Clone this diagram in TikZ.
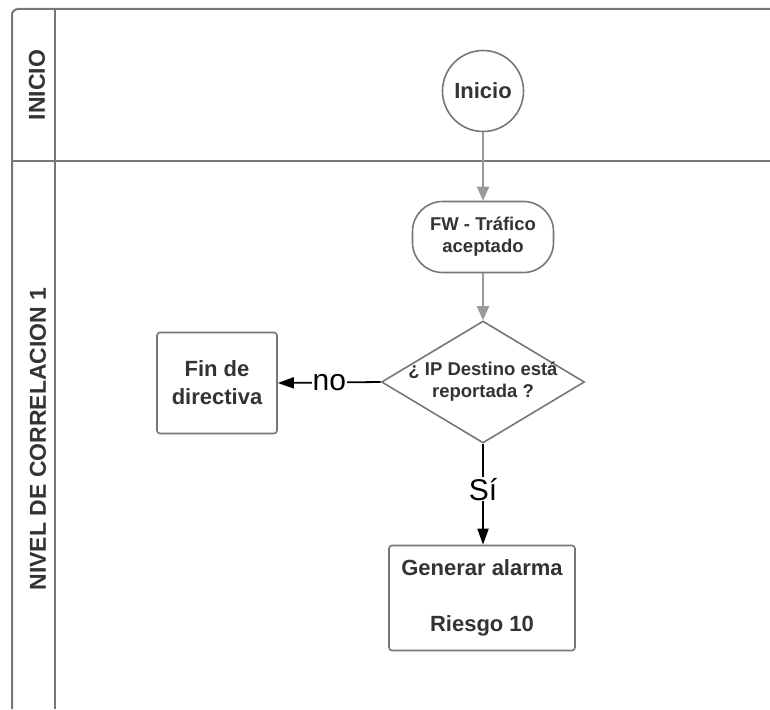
\documentclass[tikz,border=0pt]{standalone}
\usepackage{fontspec}
\setmainfont{Liberation Sans}
\usetikzlibrary{shapes.geometric,arrows.meta}
\definecolor{txt}{HTML}{333333}
\definecolor{lane}{HTML}{777777}
\definecolor{garrow}{HTML}{9A9A9A}
\begin{document}
\begin{tikzpicture}[x=1pt,y=-1pt,
  lanel/.style={line width=2pt,draw=lane},
  hdr/.style={rotate=90,font=\fontsize{23}{27}\selectfont\bfseries,text=txt,inner sep=0},
  shp/.style={draw=lane,line width=1.6pt,fill=white,text=txt,align=center,inner sep=0},
  gflow/.style={draw=garrow,line width=2pt,-{Triangle[length=14pt,width=12pt]}},
  bflow/.style={draw=black,line width=1.8pt,-{Triangle[length=16pt,width=11pt]}},
  lbl/.style={fill=white,text=black,font=\fontsize{30}{32}\selectfont,inner sep=1pt}
]
\useasboundingbox (0,0) rectangle (770,709);
% swimlanes
\draw[lanel, rounded corners=6pt] (12,709) -- (12,9) -- (770,9);
\draw[lanel] (55,9) -- (55,709);
\draw[lanel] (12,161) -- (770,161);
\node[hdr] (h1) at (37,85) {INICIO};
\node[hdr] (h2) at (38,439) {NIVEL DE CORRELACION 1};
% nodes
\node[shp, circle, minimum size=81pt, font=\fontsize{22}{26}\selectfont\bfseries] (ini) at (483,91) {Inicio};
\node[shp, rounded corners=30pt, minimum width=141pt, minimum height=71pt, font=\fontsize{18.5}{22}\selectfont\bfseries] (fw) at (483,237) {FW - Tráfico\\aceptado};
\node[shp, diamond, minimum width=203pt, minimum height=122pt] (dia) at (483,382) {};
\node[text=txt, align=center, inner sep=0, font=\fontsize{18.5}{22}\selectfont\bfseries] (diat) at (dia.center) {¿ IP Destino está\\reportada ?};
\node[shp, rounded corners=3pt, minimum width=120pt, minimum height=101pt, font=\fontsize{22}{28}\selectfont\bfseries] (fin) at (217,383) {Fin de\\directiva};
\node[shp, rounded corners=3pt, minimum width=186pt, minimum height=105pt, font=\fontsize{22}{28}\selectfont\bfseries] (gen) at (482,598) {Generar alarma\\[28pt]Riesgo 10};
% connectors
\draw[gflow] (ini) -- (fw);
\draw[gflow] (fw) -- (dia);
\draw[bflow] (dia.west) -- node[lbl] {no} (fin.east);
\draw[bflow] (dia.south) -- node[lbl, pos=0.45] {Sí} (dia.south |- gen.north);
\end{tikzpicture}
\end{document}
